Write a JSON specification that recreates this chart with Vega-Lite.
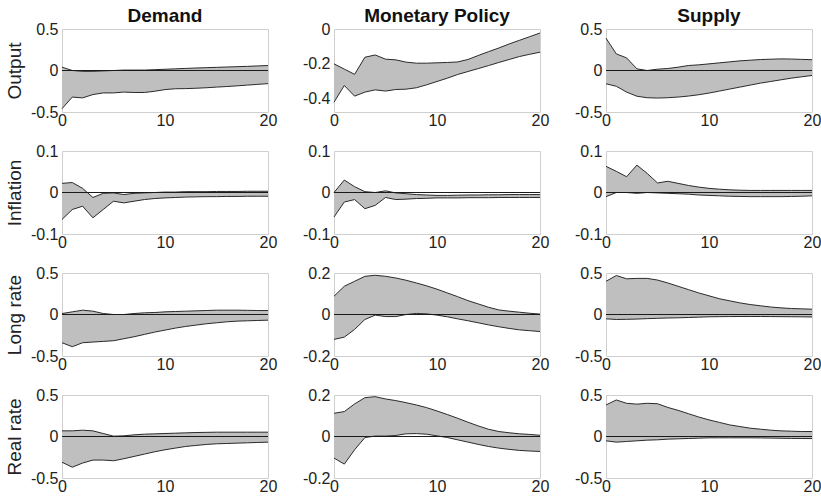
{
"$schema": "https://vega.github.io/schema/vega-lite/v6.json",
"background": "white",
"padding": {"left": 4, "top": 6, "right": 4, "bottom": 4},
"columns": 3,
"spacing": {"row": 39, "column": 66},
"bounds": "flush",
"datasets": {
"zero": [{"z": 0}],
"dem_out": [{"h":0,"lo":-0.46,"hi":0.04},{"h":1,"lo":-0.32,"hi":0.0},{"h":2,"lo":-0.33,"hi":-0.01},{"h":3,"lo":-0.29,"hi":-0.01},{"h":4,"lo":-0.27,"hi":-0.005},{"h":5,"lo":-0.27,"hi":0.0},{"h":6,"lo":-0.26,"hi":0.005},{"h":7,"lo":-0.265,"hi":0.005},{"h":8,"lo":-0.265,"hi":0.005},{"h":9,"lo":-0.25,"hi":0.01},{"h":10,"lo":-0.23,"hi":0.015},{"h":11,"lo":-0.22,"hi":0.02},{"h":12,"lo":-0.218,"hi":0.025},{"h":13,"lo":-0.214,"hi":0.03},{"h":14,"lo":-0.208,"hi":0.034},{"h":15,"lo":-0.2,"hi":0.038},{"h":16,"lo":-0.193,"hi":0.042},{"h":17,"lo":-0.185,"hi":0.046},{"h":18,"lo":-0.176,"hi":0.05},{"h":19,"lo":-0.167,"hi":0.055},{"h":20,"lo":-0.158,"hi":0.06}],
"mp_out": [{"h":0,"lo":-0.42,"hi":-0.2},{"h":1,"lo":-0.324,"hi":-0.23},{"h":2,"lo":-0.385,"hi":-0.26},{"h":3,"lo":-0.362,"hi":-0.162},{"h":4,"lo":-0.349,"hi":-0.149},{"h":5,"lo":-0.356,"hi":-0.173},{"h":6,"lo":-0.347,"hi":-0.177},{"h":7,"lo":-0.345,"hi":-0.19},{"h":8,"lo":-0.337,"hi":-0.196},{"h":9,"lo":-0.32,"hi":-0.196},{"h":10,"lo":-0.301,"hi":-0.194},{"h":11,"lo":-0.282,"hi":-0.192},{"h":12,"lo":-0.261,"hi":-0.189},{"h":13,"lo":-0.244,"hi":-0.175},{"h":14,"lo":-0.227,"hi":-0.152},{"h":15,"lo":-0.21,"hi":-0.13},{"h":16,"lo":-0.192,"hi":-0.109},{"h":17,"lo":-0.175,"hi":-0.086},{"h":18,"lo":-0.158,"hi":-0.065},{"h":19,"lo":-0.145,"hi":-0.044},{"h":20,"lo":-0.133,"hi":-0.023}],
"sup_out": [{"h":0,"lo":-0.16,"hi":0.39},{"h":1,"lo":-0.19,"hi":0.2},{"h":2,"lo":-0.26,"hi":0.152},{"h":3,"lo":-0.31,"hi":0.02},{"h":4,"lo":-0.328,"hi":0.0},{"h":5,"lo":-0.332,"hi":0.016},{"h":6,"lo":-0.328,"hi":0.024},{"h":7,"lo":-0.32,"hi":0.04},{"h":8,"lo":-0.308,"hi":0.06},{"h":9,"lo":-0.292,"hi":0.068},{"h":10,"lo":-0.272,"hi":0.08},{"h":11,"lo":-0.248,"hi":0.092},{"h":12,"lo":-0.224,"hi":0.104},{"h":13,"lo":-0.2,"hi":0.116},{"h":14,"lo":-0.176,"hi":0.124},{"h":15,"lo":-0.152,"hi":0.132},{"h":16,"lo":-0.132,"hi":0.136},{"h":17,"lo":-0.112,"hi":0.14},{"h":18,"lo":-0.092,"hi":0.138},{"h":19,"lo":-0.076,"hi":0.134},{"h":20,"lo":-0.06,"hi":0.13}],
"dem_inf": [{"h":0,"lo":-0.065,"hi":0.022},{"h":1,"lo":-0.041,"hi":0.024},{"h":2,"lo":-0.033,"hi":0.01},{"h":3,"lo":-0.061,"hi":-0.012},{"h":4,"lo":-0.041,"hi":-0.002},{"h":5,"lo":-0.021,"hi":-0.001},{"h":6,"lo":-0.025,"hi":-0.005},{"h":7,"lo":-0.021,"hi":-0.002},{"h":8,"lo":-0.017,"hi":-0.001},{"h":9,"lo":-0.0145,"hi":0.0},{"h":10,"lo":-0.013,"hi":0.001},{"h":11,"lo":-0.012,"hi":0.001},{"h":12,"lo":-0.011,"hi":0.002},{"h":13,"lo":-0.0105,"hi":0.002},{"h":14,"lo":-0.01,"hi":0.002},{"h":15,"lo":-0.01,"hi":0.0025},{"h":16,"lo":-0.0095,"hi":0.0025},{"h":17,"lo":-0.0095,"hi":0.0025},{"h":18,"lo":-0.009,"hi":0.003},{"h":19,"lo":-0.009,"hi":0.003},{"h":20,"lo":-0.009,"hi":0.003}],
"mp_inf": [{"h":0,"lo":-0.059,"hi":0.0},{"h":1,"lo":-0.023,"hi":0.03},{"h":2,"lo":-0.017,"hi":0.014},{"h":3,"lo":-0.039,"hi":0.002},{"h":4,"lo":-0.031,"hi":0.0},{"h":5,"lo":-0.012,"hi":0.004},{"h":6,"lo":-0.017,"hi":-0.001},{"h":7,"lo":-0.016,"hi":-0.003},{"h":8,"lo":-0.0145,"hi":-0.005},{"h":9,"lo":-0.014,"hi":-0.006},{"h":10,"lo":-0.013,"hi":-0.007},{"h":11,"lo":-0.013,"hi":-0.007},{"h":12,"lo":-0.013,"hi":-0.0065},{"h":13,"lo":-0.0125,"hi":-0.006},{"h":14,"lo":-0.0125,"hi":-0.006},{"h":15,"lo":-0.0125,"hi":-0.0055},{"h":16,"lo":-0.012,"hi":-0.0055},{"h":17,"lo":-0.012,"hi":-0.005},{"h":18,"lo":-0.012,"hi":-0.005},{"h":19,"lo":-0.012,"hi":-0.005},{"h":20,"lo":-0.012,"hi":-0.005}],
"sup_inf": [{"h":0,"lo":-0.01,"hi":0.063},{"h":1,"lo":0.0,"hi":0.051},{"h":2,"lo":0.0,"hi":0.038},{"h":3,"lo":-0.002,"hi":0.066},{"h":4,"lo":0.0,"hi":0.046},{"h":5,"lo":-0.001,"hi":0.023},{"h":6,"lo":-0.002,"hi":0.027},{"h":7,"lo":-0.003,"hi":0.022},{"h":8,"lo":-0.004,"hi":0.017},{"h":9,"lo":-0.006,"hi":0.013},{"h":10,"lo":-0.007,"hi":0.01},{"h":11,"lo":-0.008,"hi":0.008},{"h":12,"lo":-0.009,"hi":0.0065},{"h":13,"lo":-0.0095,"hi":0.0055},{"h":14,"lo":-0.01,"hi":0.005},{"h":15,"lo":-0.01,"hi":0.005},{"h":16,"lo":-0.01,"hi":0.005},{"h":17,"lo":-0.01,"hi":0.005},{"h":18,"lo":-0.0095,"hi":0.005},{"h":19,"lo":-0.009,"hi":0.005},{"h":20,"lo":-0.008,"hi":0.005}],
"dem_lr": [{"h":0,"lo":-0.34,"hi":0.012},{"h":1,"lo":-0.388,"hi":0.032},{"h":2,"lo":-0.34,"hi":0.052},{"h":3,"lo":-0.332,"hi":0.04},{"h":4,"lo":-0.324,"hi":0.012},{"h":5,"lo":-0.316,"hi":0.0},{"h":6,"lo":-0.292,"hi":0.0},{"h":7,"lo":-0.268,"hi":0.012},{"h":8,"lo":-0.24,"hi":0.02},{"h":9,"lo":-0.212,"hi":0.024},{"h":10,"lo":-0.188,"hi":0.032},{"h":11,"lo":-0.164,"hi":0.036},{"h":12,"lo":-0.144,"hi":0.04},{"h":13,"lo":-0.128,"hi":0.044},{"h":14,"lo":-0.112,"hi":0.048},{"h":15,"lo":-0.1,"hi":0.052},{"h":16,"lo":-0.088,"hi":0.052},{"h":17,"lo":-0.08,"hi":0.052},{"h":18,"lo":-0.076,"hi":0.05},{"h":19,"lo":-0.072,"hi":0.048},{"h":20,"lo":-0.068,"hi":0.048}],
"mp_lr": [{"h":0,"lo":-0.12,"hi":0.088},{"h":1,"lo":-0.109,"hi":0.136},{"h":2,"lo":-0.072,"hi":0.16},{"h":3,"lo":-0.024,"hi":0.184},{"h":4,"lo":-0.003,"hi":0.189},{"h":5,"lo":-0.01,"hi":0.184},{"h":6,"lo":-0.01,"hi":0.176},{"h":7,"lo":0.0,"hi":0.165},{"h":8,"lo":0.005,"hi":0.152},{"h":9,"lo":0.003,"hi":0.138},{"h":10,"lo":-0.003,"hi":0.122},{"h":11,"lo":-0.011,"hi":0.104},{"h":12,"lo":-0.021,"hi":0.086},{"h":13,"lo":-0.03,"hi":0.067},{"h":14,"lo":-0.04,"hi":0.051},{"h":15,"lo":-0.05,"hi":0.035},{"h":16,"lo":-0.059,"hi":0.022},{"h":17,"lo":-0.067,"hi":0.016},{"h":18,"lo":-0.074,"hi":0.011},{"h":19,"lo":-0.078,"hi":0.006},{"h":20,"lo":-0.082,"hi":0.002}],
"sup_lr": [{"h":0,"lo":-0.052,"hi":0.4},{"h":1,"lo":-0.06,"hi":0.47},{"h":2,"lo":-0.058,"hi":0.43},{"h":3,"lo":-0.055,"hi":0.435},{"h":4,"lo":-0.05,"hi":0.435},{"h":5,"lo":-0.046,"hi":0.415},{"h":6,"lo":-0.042,"hi":0.38},{"h":7,"lo":-0.04,"hi":0.34},{"h":8,"lo":-0.036,"hi":0.3},{"h":9,"lo":-0.032,"hi":0.26},{"h":10,"lo":-0.028,"hi":0.225},{"h":11,"lo":-0.026,"hi":0.19},{"h":12,"lo":-0.025,"hi":0.165},{"h":13,"lo":-0.024,"hi":0.14},{"h":14,"lo":-0.024,"hi":0.12},{"h":15,"lo":-0.024,"hi":0.105},{"h":16,"lo":-0.025,"hi":0.09},{"h":17,"lo":-0.026,"hi":0.08},{"h":18,"lo":-0.027,"hi":0.072},{"h":19,"lo":-0.028,"hi":0.068},{"h":20,"lo":-0.03,"hi":0.064}],
"dem_rr": [{"h":0,"lo":-0.31,"hi":0.068},{"h":1,"lo":-0.37,"hi":0.068},{"h":2,"lo":-0.32,"hi":0.076},{"h":3,"lo":-0.284,"hi":0.068},{"h":4,"lo":-0.284,"hi":0.036},{"h":5,"lo":-0.292,"hi":0.004},{"h":6,"lo":-0.268,"hi":0.008},{"h":7,"lo":-0.24,"hi":0.02},{"h":8,"lo":-0.212,"hi":0.028},{"h":9,"lo":-0.184,"hi":0.032},{"h":10,"lo":-0.16,"hi":0.036},{"h":11,"lo":-0.14,"hi":0.04},{"h":12,"lo":-0.12,"hi":0.044},{"h":13,"lo":-0.108,"hi":0.048},{"h":14,"lo":-0.096,"hi":0.05},{"h":15,"lo":-0.088,"hi":0.052},{"h":16,"lo":-0.084,"hi":0.052},{"h":17,"lo":-0.08,"hi":0.052},{"h":18,"lo":-0.076,"hi":0.052},{"h":19,"lo":-0.072,"hi":0.052},{"h":20,"lo":-0.068,"hi":0.052}],
"mp_rr": [{"h":0,"lo":-0.104,"hi":0.112},{"h":1,"lo":-0.133,"hi":0.12},{"h":2,"lo":-0.064,"hi":0.157},{"h":3,"lo":-0.005,"hi":0.187},{"h":4,"lo":0.002,"hi":0.192},{"h":5,"lo":0.002,"hi":0.181},{"h":6,"lo":0.005,"hi":0.173},{"h":7,"lo":0.013,"hi":0.163},{"h":8,"lo":0.014,"hi":0.152},{"h":9,"lo":0.011,"hi":0.139},{"h":10,"lo":0.003,"hi":0.123},{"h":11,"lo":-0.005,"hi":0.106},{"h":12,"lo":-0.016,"hi":0.088},{"h":13,"lo":-0.027,"hi":0.069},{"h":14,"lo":-0.038,"hi":0.051},{"h":15,"lo":-0.048,"hi":0.035},{"h":16,"lo":-0.056,"hi":0.024},{"h":17,"lo":-0.062,"hi":0.018},{"h":18,"lo":-0.067,"hi":0.013},{"h":19,"lo":-0.07,"hi":0.01},{"h":20,"lo":-0.072,"hi":0.006}],
"sup_rr": [{"h":0,"lo":-0.052,"hi":0.38},{"h":1,"lo":-0.068,"hi":0.44},{"h":2,"lo":-0.06,"hi":0.4},{"h":3,"lo":-0.052,"hi":0.39},{"h":4,"lo":-0.044,"hi":0.4},{"h":5,"lo":-0.04,"hi":0.395},{"h":6,"lo":-0.032,"hi":0.35},{"h":7,"lo":-0.028,"hi":0.315},{"h":8,"lo":-0.024,"hi":0.275},{"h":9,"lo":-0.02,"hi":0.235},{"h":10,"lo":-0.016,"hi":0.2},{"h":11,"lo":-0.016,"hi":0.17},{"h":12,"lo":-0.016,"hi":0.14},{"h":13,"lo":-0.016,"hi":0.12},{"h":14,"lo":-0.016,"hi":0.1},{"h":15,"lo":-0.017,"hi":0.088},{"h":16,"lo":-0.019,"hi":0.076},{"h":17,"lo":-0.021,"hi":0.068},{"h":18,"lo":-0.023,"hi":0.064},{"h":19,"lo":-0.024,"hi":0.06},{"h":20,"lo":-0.025,"hi":0.06}]
},
"concat": [
{"title": "Demand", "width": 206, "height": 83, "layer": [
 {"data": {"name": "dem_out"}, "mark": {"type": "area", "color": "#bfbfbf"}, "encoding": {"x": {"field": "h", "type": "quantitative", "scale": {"domain": [0, 20]}, "axis": {"values": [0, 10, 20], "title": null, "labelFlush": false}}, "y": {"field": "lo", "type": "quantitative", "scale": {"domain": [-0.5, 0.5]}, "axis": {"values": [-0.5, 0, 0.5], "title": "Output", "labelExpr": "'' + datum.value"}}, "y2": {"field": "hi"}}},
 {"data": {"name": "dem_out"}, "mark": {"type": "line", "color": "#2a2a2a", "strokeWidth": 1}, "encoding": {"x": {"field": "h", "type": "quantitative"}, "y": {"field": "lo", "type": "quantitative"}}},
 {"data": {"name": "dem_out"}, "mark": {"type": "line", "color": "#2a2a2a", "strokeWidth": 1}, "encoding": {"x": {"field": "h", "type": "quantitative"}, "y": {"field": "hi", "type": "quantitative"}}},
 {"data": {"name": "zero"}, "mark": {"type": "rule", "color": "#1a1a1a", "strokeWidth": 1}, "encoding": {"y": {"field": "z", "type": "quantitative"}}}
]},
{"title": "Monetary Policy", "width": 206, "height": 83, "layer": [
 {"data": {"name": "mp_out"}, "mark": {"type": "area", "color": "#bfbfbf"}, "encoding": {"x": {"field": "h", "type": "quantitative", "scale": {"domain": [0, 20]}, "axis": {"values": [0, 10, 20], "title": null, "labelFlush": false}}, "y": {"field": "lo", "type": "quantitative", "scale": {"domain": [-0.476, 0], "nice": false}, "axis": {"values": [-0.4, -0.2, 0], "title": null, "labelExpr": "'' + datum.value"}}, "y2": {"field": "hi"}}},
 {"data": {"name": "mp_out"}, "mark": {"type": "line", "color": "#2a2a2a", "strokeWidth": 1}, "encoding": {"x": {"field": "h", "type": "quantitative"}, "y": {"field": "lo", "type": "quantitative"}}},
 {"data": {"name": "mp_out"}, "mark": {"type": "line", "color": "#2a2a2a", "strokeWidth": 1}, "encoding": {"x": {"field": "h", "type": "quantitative"}, "y": {"field": "hi", "type": "quantitative"}}}
]},
{"title": "Supply", "width": 206, "height": 83, "layer": [
 {"data": {"name": "sup_out"}, "mark": {"type": "area", "color": "#bfbfbf"}, "encoding": {"x": {"field": "h", "type": "quantitative", "scale": {"domain": [0, 20]}, "axis": {"values": [0, 10, 20], "title": null, "labelFlush": false}}, "y": {"field": "lo", "type": "quantitative", "scale": {"domain": [-0.5, 0.5]}, "axis": {"values": [-0.5, 0, 0.5], "title": null, "labelExpr": "'' + datum.value"}}, "y2": {"field": "hi"}}},
 {"data": {"name": "sup_out"}, "mark": {"type": "line", "color": "#2a2a2a", "strokeWidth": 1}, "encoding": {"x": {"field": "h", "type": "quantitative"}, "y": {"field": "lo", "type": "quantitative"}}},
 {"data": {"name": "sup_out"}, "mark": {"type": "line", "color": "#2a2a2a", "strokeWidth": 1}, "encoding": {"x": {"field": "h", "type": "quantitative"}, "y": {"field": "hi", "type": "quantitative"}}},
 {"data": {"name": "zero"}, "mark": {"type": "rule", "color": "#1a1a1a", "strokeWidth": 1}, "encoding": {"y": {"field": "z", "type": "quantitative"}}}
]},
{"width": 206, "height": 83, "layer": [
 {"data": {"name": "dem_inf"}, "mark": {"type": "area", "color": "#bfbfbf"}, "encoding": {"x": {"field": "h", "type": "quantitative", "scale": {"domain": [0, 20]}, "axis": {"values": [0, 10, 20], "title": null, "labelFlush": false}}, "y": {"field": "lo", "type": "quantitative", "scale": {"domain": [-0.1, 0.1]}, "axis": {"values": [-0.1, 0, 0.1], "title": "Inflation", "labelExpr": "'' + datum.value"}}, "y2": {"field": "hi"}}},
 {"data": {"name": "dem_inf"}, "mark": {"type": "line", "color": "#2a2a2a", "strokeWidth": 1}, "encoding": {"x": {"field": "h", "type": "quantitative"}, "y": {"field": "lo", "type": "quantitative"}}},
 {"data": {"name": "dem_inf"}, "mark": {"type": "line", "color": "#2a2a2a", "strokeWidth": 1}, "encoding": {"x": {"field": "h", "type": "quantitative"}, "y": {"field": "hi", "type": "quantitative"}}},
 {"data": {"name": "zero"}, "mark": {"type": "rule", "color": "#1a1a1a", "strokeWidth": 1}, "encoding": {"y": {"field": "z", "type": "quantitative"}}}
]},
{"width": 206, "height": 83, "layer": [
 {"data": {"name": "mp_inf"}, "mark": {"type": "area", "color": "#bfbfbf"}, "encoding": {"x": {"field": "h", "type": "quantitative", "scale": {"domain": [0, 20]}, "axis": {"values": [0, 10, 20], "title": null, "labelFlush": false}}, "y": {"field": "lo", "type": "quantitative", "scale": {"domain": [-0.1, 0.1]}, "axis": {"values": [-0.1, 0, 0.1], "title": null, "labelExpr": "'' + datum.value"}}, "y2": {"field": "hi"}}},
 {"data": {"name": "mp_inf"}, "mark": {"type": "line", "color": "#2a2a2a", "strokeWidth": 1}, "encoding": {"x": {"field": "h", "type": "quantitative"}, "y": {"field": "lo", "type": "quantitative"}}},
 {"data": {"name": "mp_inf"}, "mark": {"type": "line", "color": "#2a2a2a", "strokeWidth": 1}, "encoding": {"x": {"field": "h", "type": "quantitative"}, "y": {"field": "hi", "type": "quantitative"}}},
 {"data": {"name": "zero"}, "mark": {"type": "rule", "color": "#1a1a1a", "strokeWidth": 1}, "encoding": {"y": {"field": "z", "type": "quantitative"}}}
]},
{"width": 206, "height": 83, "layer": [
 {"data": {"name": "sup_inf"}, "mark": {"type": "area", "color": "#bfbfbf"}, "encoding": {"x": {"field": "h", "type": "quantitative", "scale": {"domain": [0, 20]}, "axis": {"values": [0, 10, 20], "title": null, "labelFlush": false}}, "y": {"field": "lo", "type": "quantitative", "scale": {"domain": [-0.1, 0.1]}, "axis": {"values": [-0.1, 0, 0.1], "title": null, "labelExpr": "'' + datum.value"}}, "y2": {"field": "hi"}}},
 {"data": {"name": "sup_inf"}, "mark": {"type": "line", "color": "#2a2a2a", "strokeWidth": 1}, "encoding": {"x": {"field": "h", "type": "quantitative"}, "y": {"field": "lo", "type": "quantitative"}}},
 {"data": {"name": "sup_inf"}, "mark": {"type": "line", "color": "#2a2a2a", "strokeWidth": 1}, "encoding": {"x": {"field": "h", "type": "quantitative"}, "y": {"field": "hi", "type": "quantitative"}}},
 {"data": {"name": "zero"}, "mark": {"type": "rule", "color": "#1a1a1a", "strokeWidth": 1}, "encoding": {"y": {"field": "z", "type": "quantitative"}}}
]},
{"width": 206, "height": 83, "layer": [
 {"data": {"name": "dem_lr"}, "mark": {"type": "area", "color": "#bfbfbf"}, "encoding": {"x": {"field": "h", "type": "quantitative", "scale": {"domain": [0, 20]}, "axis": {"values": [0, 10, 20], "title": null, "labelFlush": false}}, "y": {"field": "lo", "type": "quantitative", "scale": {"domain": [-0.5, 0.5]}, "axis": {"values": [-0.5, 0, 0.5], "title": "Long rate", "labelExpr": "'' + datum.value"}}, "y2": {"field": "hi"}}},
 {"data": {"name": "dem_lr"}, "mark": {"type": "line", "color": "#2a2a2a", "strokeWidth": 1}, "encoding": {"x": {"field": "h", "type": "quantitative"}, "y": {"field": "lo", "type": "quantitative"}}},
 {"data": {"name": "dem_lr"}, "mark": {"type": "line", "color": "#2a2a2a", "strokeWidth": 1}, "encoding": {"x": {"field": "h", "type": "quantitative"}, "y": {"field": "hi", "type": "quantitative"}}},
 {"data": {"name": "zero"}, "mark": {"type": "rule", "color": "#1a1a1a", "strokeWidth": 1}, "encoding": {"y": {"field": "z", "type": "quantitative"}}}
]},
{"width": 206, "height": 83, "layer": [
 {"data": {"name": "mp_lr"}, "mark": {"type": "area", "color": "#bfbfbf"}, "encoding": {"x": {"field": "h", "type": "quantitative", "scale": {"domain": [0, 20]}, "axis": {"values": [0, 10, 20], "title": null, "labelFlush": false}}, "y": {"field": "lo", "type": "quantitative", "scale": {"domain": [-0.2, 0.2]}, "axis": {"values": [-0.2, 0, 0.2], "title": null, "labelExpr": "'' + datum.value"}}, "y2": {"field": "hi"}}},
 {"data": {"name": "mp_lr"}, "mark": {"type": "line", "color": "#2a2a2a", "strokeWidth": 1}, "encoding": {"x": {"field": "h", "type": "quantitative"}, "y": {"field": "lo", "type": "quantitative"}}},
 {"data": {"name": "mp_lr"}, "mark": {"type": "line", "color": "#2a2a2a", "strokeWidth": 1}, "encoding": {"x": {"field": "h", "type": "quantitative"}, "y": {"field": "hi", "type": "quantitative"}}},
 {"data": {"name": "zero"}, "mark": {"type": "rule", "color": "#1a1a1a", "strokeWidth": 1}, "encoding": {"y": {"field": "z", "type": "quantitative"}}}
]},
{"width": 206, "height": 83, "layer": [
 {"data": {"name": "sup_lr"}, "mark": {"type": "area", "color": "#bfbfbf"}, "encoding": {"x": {"field": "h", "type": "quantitative", "scale": {"domain": [0, 20]}, "axis": {"values": [0, 10, 20], "title": null, "labelFlush": false}}, "y": {"field": "lo", "type": "quantitative", "scale": {"domain": [-0.5, 0.5]}, "axis": {"values": [-0.5, 0, 0.5], "title": null, "labelExpr": "'' + datum.value"}}, "y2": {"field": "hi"}}},
 {"data": {"name": "sup_lr"}, "mark": {"type": "line", "color": "#2a2a2a", "strokeWidth": 1}, "encoding": {"x": {"field": "h", "type": "quantitative"}, "y": {"field": "lo", "type": "quantitative"}}},
 {"data": {"name": "sup_lr"}, "mark": {"type": "line", "color": "#2a2a2a", "strokeWidth": 1}, "encoding": {"x": {"field": "h", "type": "quantitative"}, "y": {"field": "hi", "type": "quantitative"}}},
 {"data": {"name": "zero"}, "mark": {"type": "rule", "color": "#1a1a1a", "strokeWidth": 1}, "encoding": {"y": {"field": "z", "type": "quantitative"}}}
]},
{"width": 206, "height": 83, "layer": [
 {"data": {"name": "dem_rr"}, "mark": {"type": "area", "color": "#bfbfbf"}, "encoding": {"x": {"field": "h", "type": "quantitative", "scale": {"domain": [0, 20]}, "axis": {"values": [0, 10, 20], "title": null, "labelFlush": false}}, "y": {"field": "lo", "type": "quantitative", "scale": {"domain": [-0.5, 0.5]}, "axis": {"values": [-0.5, 0, 0.5], "title": "Real rate", "labelExpr": "'' + datum.value"}}, "y2": {"field": "hi"}}},
 {"data": {"name": "dem_rr"}, "mark": {"type": "line", "color": "#2a2a2a", "strokeWidth": 1}, "encoding": {"x": {"field": "h", "type": "quantitative"}, "y": {"field": "lo", "type": "quantitative"}}},
 {"data": {"name": "dem_rr"}, "mark": {"type": "line", "color": "#2a2a2a", "strokeWidth": 1}, "encoding": {"x": {"field": "h", "type": "quantitative"}, "y": {"field": "hi", "type": "quantitative"}}},
 {"data": {"name": "zero"}, "mark": {"type": "rule", "color": "#1a1a1a", "strokeWidth": 1}, "encoding": {"y": {"field": "z", "type": "quantitative"}}}
]},
{"width": 206, "height": 83, "layer": [
 {"data": {"name": "mp_rr"}, "mark": {"type": "area", "color": "#bfbfbf"}, "encoding": {"x": {"field": "h", "type": "quantitative", "scale": {"domain": [0, 20]}, "axis": {"values": [0, 10, 20], "title": null, "labelFlush": false}}, "y": {"field": "lo", "type": "quantitative", "scale": {"domain": [-0.2, 0.2]}, "axis": {"values": [-0.2, 0, 0.2], "title": null, "labelExpr": "'' + datum.value"}}, "y2": {"field": "hi"}}},
 {"data": {"name": "mp_rr"}, "mark": {"type": "line", "color": "#2a2a2a", "strokeWidth": 1}, "encoding": {"x": {"field": "h", "type": "quantitative"}, "y": {"field": "lo", "type": "quantitative"}}},
 {"data": {"name": "mp_rr"}, "mark": {"type": "line", "color": "#2a2a2a", "strokeWidth": 1}, "encoding": {"x": {"field": "h", "type": "quantitative"}, "y": {"field": "hi", "type": "quantitative"}}},
 {"data": {"name": "zero"}, "mark": {"type": "rule", "color": "#1a1a1a", "strokeWidth": 1}, "encoding": {"y": {"field": "z", "type": "quantitative"}}}
]},
{"width": 206, "height": 83, "layer": [
 {"data": {"name": "sup_rr"}, "mark": {"type": "area", "color": "#bfbfbf"}, "encoding": {"x": {"field": "h", "type": "quantitative", "scale": {"domain": [0, 20]}, "axis": {"values": [0, 10, 20], "title": null, "labelFlush": false}}, "y": {"field": "lo", "type": "quantitative", "scale": {"domain": [-0.5, 0.5]}, "axis": {"values": [-0.5, 0, 0.5], "title": null, "labelExpr": "'' + datum.value"}}, "y2": {"field": "hi"}}},
 {"data": {"name": "sup_rr"}, "mark": {"type": "line", "color": "#2a2a2a", "strokeWidth": 1}, "encoding": {"x": {"field": "h", "type": "quantitative"}, "y": {"field": "lo", "type": "quantitative"}}},
 {"data": {"name": "sup_rr"}, "mark": {"type": "line", "color": "#2a2a2a", "strokeWidth": 1}, "encoding": {"x": {"field": "h", "type": "quantitative"}, "y": {"field": "hi", "type": "quantitative"}}},
 {"data": {"name": "zero"}, "mark": {"type": "rule", "color": "#1a1a1a", "strokeWidth": 1}, "encoding": {"y": {"field": "z", "type": "quantitative"}}}
]}
],
"config": {
 "font": "Liberation Sans",
 "view": {"stroke": "#cfcfcf", "strokeWidth": 1},
 "axis": {"grid": false, "domain": false, "ticks": false, "labelFont": "Liberation Sans", "labelFontSize": 16, "labelColor": "#222222", "labelPadding": 4, "titleFont": "Liberation Sans", "titleFontSize": 19, "titleFontWeight": "normal", "titleColor": "#222222", "titlePadding": 6},
 "axisX": {"labelPadding": 0},
 "title": {"font": "Liberation Sans", "fontSize": 19, "fontWeight": "bold", "color": "#111111", "offset": -5, "anchor": "middle"}
}
}
